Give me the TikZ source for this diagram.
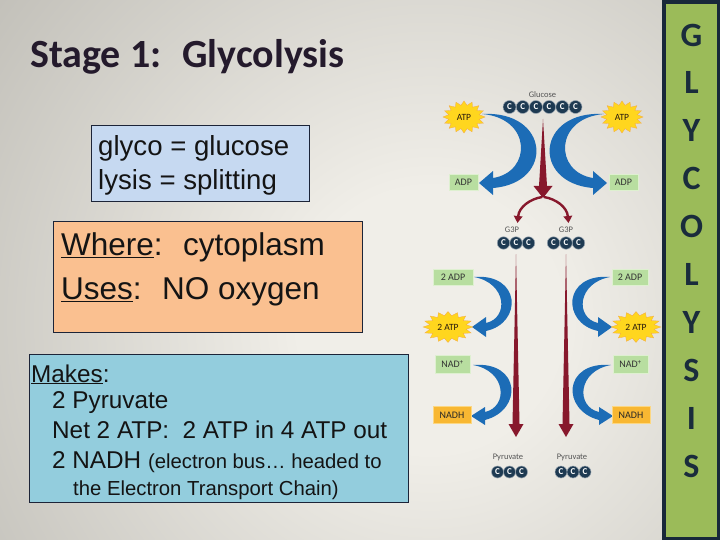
\documentclass[tikz,border=0pt]{standalone}
\usepackage{fontspec}
\setmainfont{Liberation Sans}
\newfontfamily\calibri{Carlito}
\usetikzlibrary{arrows.meta}
\definecolor{navyc}{RGB}{24,40,58}
\definecolor{stripgreen}{RGB}{155,187,89}
\definecolor{letterc}{RGB}{26,44,60}
\definecolor{titlec}{RGB}{36,26,44}
\definecolor{bgin}{RGB}{240,238,232}
\definecolor{bgout}{RGB}{132,130,122}
\definecolor{boxblue}{RGB}{198,217,241}
\definecolor{boxorange}{RGB}{250,192,144}
\definecolor{boxcyan}{RGB}{147,205,221}
\definecolor{boxline}{RGB}{28,36,56}
\definecolor{arrblue}{RGB}{28,108,182}
\definecolor{arrred}{RGB}{135,24,44}
\definecolor{cnavy}{RGB}{30,58,82}
\definecolor{gfill}{RGB}{184,222,160}
\definecolor{gedge}{RGB}{222,240,208}
\definecolor{ofill}{RGB}{248,183,50}
\definecolor{oedge}{RGB}{252,215,130}
\definecolor{sunin}{RGB}{255,214,30}
\definecolor{sunout}{RGB}{243,146,20}
\definecolor{labgray}{RGB}{85,85,85}
\definecolor{textc}{RGB}{20,20,20}
\pgfdeclareradialshading{sunshade}{\pgfpoint{0bp}{0bp}}{color(0bp)=(sunin); color(26bp)=(sunin); color(50bp)=(sunout)}
\pgfdeclareradialshading{bgshade}{\pgfpoint{0bp}{0bp}}{color(0bp)=(bgin); color(3bp)=(bgin); color(25bp)=(bgout); color(50bp)=(bgout)}
\newcommand\sunburst[6]{%
  \shade[shading=sunshade, draw=sunout!80!white, line width=0.3pt]
    plot[domain=0:31, samples=32, variable=\k]
    ({#1+#3*(1-0.26*mod(\k,2))*cos(\k*11.25)}, {#2+#4*(1-0.26*mod(\k,2))*sin(\k*11.25)}) -- cycle;
  \node[suntext] (#5) at (#1,#2) {#6};
}
\begin{document}
\begin{tikzpicture}[x=1pt,y=-1pt,
  boxstyle/.style={draw=boxline, line width=0.9pt, anchor=north west, inner sep=0pt},
  btext/.style={anchor=base west, inner sep=0pt, text=textc},
  letter/.style={text=letterc, font=\calibri\bfseries\fontsize{34}{34}\selectfont, inner sep=0pt},
  cc/.style={circle, fill=cnavy, draw=white!55!cnavy, line width=0.5pt, minimum size=12.5pt, inner sep=0pt, text=white, font=\calibri\bfseries\fontsize{9}{9}\selectfont},
  lab/.style={text=labgray, font=\calibri\fontsize{8.5}{8.5}\selectfont, inner sep=0pt},
  gbox/.style={fill=gfill, draw=gedge, line width=0.8pt, inner sep=0pt, minimum height=16pt, text=black!80, font=\calibri\fontsize{10}{10}\selectfont},
  obox/.style={fill=ofill, draw=oedge, line width=0.8pt, inner sep=0pt, minimum height=17pt, text=black!85, font=\calibri\fontsize{10}{10}\selectfont},
  suntext/.style={inner sep=0pt, text=black!80!brown, font=\calibri\fontsize{9.5}{9.5}\selectfont},
  redarrow/.style={arrred, line width=2.4pt, -{Triangle[length=7pt,width=8.5pt]}}
]
\useasboundingbox (0,0) rectangle (720,540);
% background
\begin{scope}
  \clip (0,0) rectangle (720,540);
  \shade[shading=bgshade] (430,320) circle (1100);
\end{scope}
% right strip
\fill[navyc] (662,0) rectangle (720,540);
\fill[stripgreen] (666,4) rectangle (717,537);
\foreach \L [count=\i from 0] in {G,L,Y,C,O,L,Y,S,I,S}
  \node[letter] (l\i) at (691.5,{35+47.9*\i}) {\L};
% title
\node[anchor=base west, inner sep=0pt, text=titlec, font=\calibri\bfseries\fontsize{40}{40}\selectfont] (title) at (30,68) {Stage 1:~ Glycolysis};
% box 1
\node[boxstyle, fill=boxblue, minimum width=218pt, minimum height=76pt] (box1) at (91,125) {};
\node[btext, font=\fontsize{27.6}{27.6}\selectfont] (b1a) at (98,156) {glyco = glucose};
\node[btext, font=\fontsize{27.6}{27.6}\selectfont] (b1b) at (98,190) {lysis = splitting};
% box 2
\node[boxstyle, fill=boxorange, minimum width=309pt, minimum height=111pt] (box2) at (53,221) {};
\node[btext, font=\fontsize{31.5}{31.5}\selectfont] (b2a) at (61,255) {\underline{Where}:~ cytoplasm};
\node[btext, font=\fontsize{31.5}{31.5}\selectfont] (b2b) at (61,299) {\underline{Uses}:~ NO oxygen};
% box 3
\node[boxstyle, fill=boxcyan, minimum width=379pt, minimum height=148pt] (box3) at (29,354) {};
\node[btext, font=\fontsize{24.3}{24.3}\selectfont] (b3a) at (31,382) {\underline{Makes}:};
\node[btext, font=\fontsize{24.3}{24.3}\selectfont] (b3b) at (52,408) {2 Pyruvate};
\node[btext, font=\fontsize{24.3}{24.3}\selectfont] (b3c) at (52,438) {Net 2 ATP:~ 2 ATP in 4 ATP out};
\node[btext, font=\fontsize{24.3}{24.3}\selectfont] (b3d) at (52,468) {2 NADH {\fontsize{20.3}{20.3}\selectfont (electron bus… headed to}};
\node[btext, font=\fontsize{20.3}{20.3}\selectfont] (b3e) at (73,495) {the Electron Transport Chain)};
% ---- glycolysis diagram ----
% blue curved arrows (left) and mirrored (right)
\fill[arrblue] (482,114) .. controls (550,110) and (555,183) .. (493,188) -- (493,195) -- (479,183) -- (493,171) -- (493,178) .. controls (532,172) and (532,118) .. (482,114) -- cycle;
\begin{scope}[xshift=1086pt, xscale=-1]
\fill[arrblue] (482,114) .. controls (550,110) and (555,183) .. (493,188) -- (493,195) -- (479,183) -- (493,171) -- (493,178) .. controls (532,172) and (532,118) .. (482,114) -- cycle;
\end{scope}
\foreach \s in {0,1}{
\begin{scope}[xshift={\s*1084pt}, xscale={1-2*\s}]
\fill[arrblue] (474,277) .. controls (521,273) and (523,323) .. (486,331) -- (486,337) -- (472,327) -- (486,317) -- (486,323) .. controls (509,318) and (507,283) .. (474,277) -- cycle;
\fill[arrblue] (473,365) .. controls (521,361) and (523,410) .. (485,420) -- (485,425) -- (471,416) -- (485,407) -- (485,412) .. controls (508,407) and (507,371) .. (473,365) -- cycle;
\end{scope}}
% red arrows
\fill[arrred] (543,119) -- (547,186) -- (552.5,186) -- (543,198) -- (533.5,186) -- (539,186) -- cycle;
\draw[redarrow] (542,197) .. controls (530,199) and (519,207) .. (517.5,223);
\draw[redarrow] (544,197) .. controls (556,199) and (567,207) .. (568.5,223);
\foreach \x in {516,566}
  \fill[arrred] (\x,254) -- (\x+3.5,424) -- (\x+7.5,424) -- (\x,437) -- (\x-7.5,424) -- (\x-3.5,424) -- cycle;
% molecules
\node[lab] (glucose) at (542.5,95) {Glucose};
\foreach \i in {0,...,5}
  \node[cc, minimum size=13pt] (gc\i) at ({509.5+13.2*\i},107) {C};
\node[lab] (g3pL) at (512,230) {G3P};
\node[lab] (g3pR) at (566,230) {G3P};
\foreach \i in {0,1,2}{
  \node[cc] (gl\i) at ({503.5+12.5*\i},243) {C};
  \node[cc] (gr\i) at ({553.5+12.5*\i},243) {C};
}
\node[lab] (pyrL) at (508,457) {Pyruvate};
\node[lab] (pyrR) at (572,457) {Pyruvate};
\foreach \i in {0,1,2}{
  \node[cc, minimum size=12pt] (pl\i) at ({497.5+12*\i},472) {C};
  \node[cc, minimum size=12pt] (pr\i) at ({561+12*\i},472) {C};
}
% energy carriers
\sunburst{464}{117}{21}{16}{atpL}{ATP}
\sunburst{622}{117}{21}{16}{atpR}{ATP}
\sunburst{448}{327}{25}{15.5}{atp2L}{2 ATP}
\sunburst{636}{327}{25}{15.5}{atp2R}{2 ATP}
\node[gbox, minimum width=29pt] (adpL) at (463.5,182) {ADP};
\node[gbox, minimum width=29pt] (adpR) at (623.5,182) {ADP};
\node[gbox, minimum width=40pt] (adp2L) at (453,277) {2 ADP};
\node[gbox, minimum width=36pt] (adp2R) at (630,277) {2 ADP};
\node[gbox, minimum width=35pt, minimum height=18pt] (nadL) at (452.5,364) {NAD\textsuperscript{+}};
\node[gbox, minimum width=35pt, minimum height=18pt] (nadR) at (630.5,364) {NAD\textsuperscript{+}};
\node[obox, minimum width=38pt] (nadhL) at (452,415) {NADH};
\node[obox, minimum width=38pt] (nadhR) at (631,415) {NADH};
\end{tikzpicture}
\end{document}
